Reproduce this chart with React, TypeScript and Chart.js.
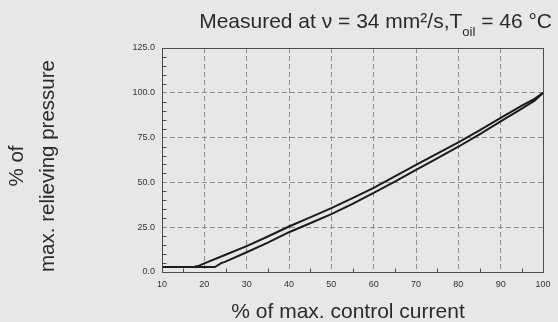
import { useEffect, useRef } from "react";
import { Chart, registerables } from "chart.js";

Chart.register(...registerables);

// % of max. control current (x) and % of max. relieving pressure (y)
const currentUp = [10, 17.5, 18.5, 20, 25, 30, 35, 40, 45, 50, 55, 60, 65, 70, 75, 80, 85, 90, 95, 98, 100];
const pressureUp = [2.8, 2.8, 3.3, 4.8, 9.6, 14.4, 19.8, 25.4, 30.5, 35.6, 41.2, 47, 53.3, 59.8, 66, 72.4, 79, 86, 92.8, 96.6, 100];
const currentDown = [10, 22.5, 24, 25, 30, 35, 40, 45, 50, 55, 60, 65, 70, 75, 80, 85, 90, 95, 98, 100];
const pressureDown = [2.8, 2.8, 5.0, 5.8, 11, 16.4, 22.2, 27.2, 32.3, 38, 44.2, 50.4, 57, 63.4, 69.9, 76.8, 84, 91.2, 95.6, 100];

const titleMain = "Measured at \u03bd = 34 mm\u00b2/s,T";
const titleSub = "oil";
const titleEnd = " = 46 \u00b0C";
const yTitle = ["% of", "max. relieving pressure"];
const xTitle = "% of max. control current";

const FONT = '"Liberation Sans", Arial, Helvetica, sans-serif';
const BG = "#e6e7e8";
const TXT = "#2b2b2b";

export default function App() {
  const ref = useRef<HTMLCanvasElement | null>(null);

  useEffect(() => {
    if (!ref.current) return;
    const deco = {
      id: "deco",
      beforeDraw(chart: any) {
        const { ctx, width, height } = chart;
        ctx.save();
        ctx.fillStyle = BG;
        ctx.fillRect(0, 0, width, height);
        ctx.restore();
      },
      afterDraw(chart: any) {
        const { ctx, chartArea: a } = chart;
        const xs = chart.scales.x;
        const ys = chart.scales.y;
        ctx.save();
        ctx.strokeStyle = "#4d4d4d";
        ctx.lineWidth = 1;
        const L = Math.round(a.left) + 0.5;
        const R = Math.round(a.right) + 0.5;
        const T = Math.round(a.top) + 0.5;
        const B = Math.round(a.bottom) + 0.5;
        ctx.strokeRect(L, T, R - L, B - T);
        ctx.beginPath();
        for (let v = 5; v < 125; v += 5) {
          if (v % 25 === 0) continue;
          const py = Math.round(ys.getPixelForValue(v)) + 0.5;
          ctx.moveTo(L, py);
          ctx.lineTo(L + 4, py);
        }
        for (let v = 15; v < 100; v += 10) {
          const px = Math.round(xs.getPixelForValue(v)) + 0.5;
          ctx.moveTo(px, B);
          ctx.lineTo(px, B - 4);
        }
        ctx.stroke();

        ctx.fillStyle = TXT;
        // main title with subscript
        ctx.font = `21px ${FONT}`;
        const w1 = ctx.measureText(titleMain).width;
        const w3 = ctx.measureText(titleEnd).width;
        ctx.font = `13px ${FONT}`;
        const w2 = ctx.measureText(titleSub).width;
        const x0 = 552 - (w1 + w2 + w3);
        ctx.textBaseline = "alphabetic";
        ctx.textAlign = "left";
        ctx.font = `21px ${FONT}`;
        ctx.fillText(titleMain, x0, 28);
        ctx.font = `13px ${FONT}`;
        ctx.fillText(titleSub, x0 + w1, 36);
        ctx.font = `21px ${FONT}`;
        ctx.fillText(titleEnd, x0 + w1 + w2, 28);

        // x title
        ctx.textAlign = "center";
        ctx.fillText(xTitle, 348, 318);

        // y title
        ctx.font = `20.5px ${FONT}`;
        ctx.textBaseline = "middle";
        const cols = [17, 48];
        yTitle.forEach((t, i) => {
          ctx.save();
          ctx.translate(cols[i], 166);
          ctx.rotate(-Math.PI / 2);
          ctx.fillText(t, 0, 0);
          ctx.restore();
        });
        ctx.restore();
      },
    };

    const chart = new Chart(ref.current, {
      type: "line",
      data: {
        datasets: [
          {
            data: currentUp.map((x, i) => ({ x, y: pressureUp[i] })),
            borderColor: "#1c1c1c",
            borderWidth: 2,
            pointRadius: 0,
            tension: 0,
          },
          {
            data: currentDown.map((x, i) => ({ x, y: pressureDown[i] })),
            borderColor: "#1c1c1c",
            borderWidth: 2,
            pointRadius: 0,
            tension: 0,
          },
        ],
      },
      options: {
        responsive: false,
        animation: false,
        layout: { padding: { left: 0, top: 48, right: 15, bottom: 0 } },
        plugins: { legend: { display: false }, tooltip: { enabled: false }, title: { display: false } },
        scales: {
          x: {
            type: "linear",
            min: 10,
            max: 100,
            afterFit: (s: any) => {
              s.height = 50;
            },
            ticks: {
              stepSize: 10,
              padding: 7,
              color: "#333",
              font: { family: FONT, size: 9 },
              maxRotation: 0,
            },
            grid: { color: "#8e8e8e", lineWidth: 1, drawTicks: false },
            border: { display: false, dash: [5, 3] },
          },
          y: {
            type: "linear",
            min: 0,
            max: 125,
            afterFit: (s: any) => {
              s.width = 162;
            },
            ticks: {
              stepSize: 25,
              padding: 7,
              color: "#333",
              font: { family: FONT, size: 9 },
              callback: (v: any) => Number(v).toFixed(1),
            },
            grid: { color: "#8e8e8e", lineWidth: 1, drawTicks: false },
            border: { display: false, dash: [5, 3] },
          },
        },
      },
      plugins: [deco],
    });
    return () => chart.destroy();
  }, []);

  return (
    <div style={{ position: "fixed", left: 0, top: 0, width: 558, height: 322, background: BG }}>
      <canvas ref={ref} width={558} height={322} style={{ display: "block", width: 558, height: 322 }} />
    </div>
  );
}
